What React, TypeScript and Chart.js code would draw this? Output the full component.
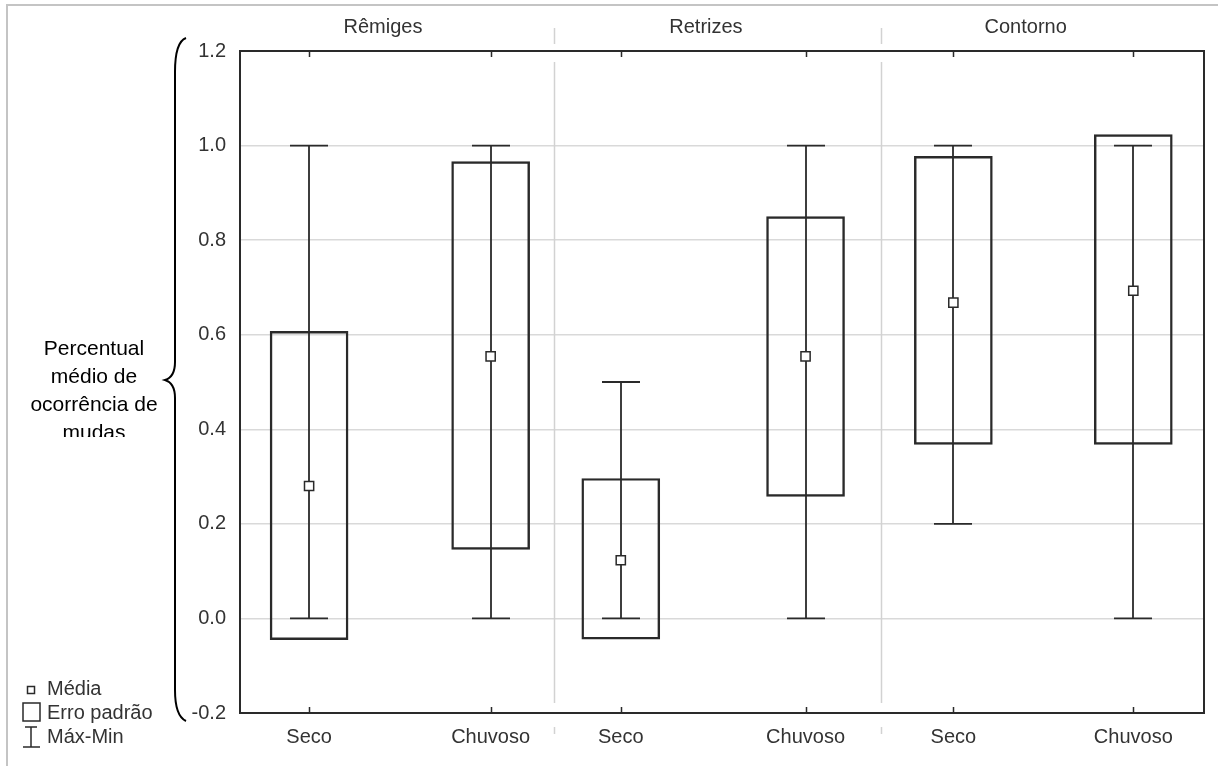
import React, { useEffect, useRef } from "react";
import { Chart, registerables } from "chart.js";

Chart.register(...registerables);

// ---- data ----
const categories = ["Seco", "Chuvoso", "Seco", "Chuvoso", "Seco", "Chuvoso"];
const groups = ["Rêmiges", "Retrizes", "Contorno"];
const xPos = [0.43, 1.56, 2.37, 3.52, 4.44, 5.56];
const groupLabelPos = [0.89, 2.9, 4.89];
const separatorPos = [1.955, 3.99];
const means = [0.28, 0.554, 0.123, 0.554, 0.668, 0.693];
const seLow = [-0.045, 0.146, -0.044, 0.258, 0.368, 0.368];
const seHigh = [0.607, 0.966, 0.296, 0.85, 0.977, 1.023];
const minVals = [0, 0, 0, 0, 0.2, 0];
const maxVals = [1, 1, 0.5, 1, 1, 1];
const yMin = -0.2;
const yMax = 1.2;
const yStep = 0.2;
const yLabelLines = ["Percentual", "médio de", "ocorrência de", "mudas"];
const legendItems = ["Média", "Erro padrão", "Máx-Min"];

const FONT = "'Liberation Sans', Arial, sans-serif";
const DARK = "#2a2a2a";

const decorPlugin = {
  id: "decor",
  beforeDatasetsDraw(chart: any) {
    const ctx = chart.ctx;
    const xs = chart.scales.x;
    const ys = chart.scales.y;
    ctx.save();
    // group separators
    ctx.strokeStyle = "#d2d2d2";
    ctx.lineWidth = 1.5;
    separatorPos.forEach((v) => {
      const px = Math.round(xs.getPixelForValue(v)) + 0.5;
      const segs = [
        [28, 44],
        [62, 703],
        [727, 734],
      ];
      segs.forEach(([a, b]) => {
        ctx.beginPath();
        ctx.moveTo(px, a);
        ctx.lineTo(px, b);
        ctx.stroke();
      });
    });
    // whiskers
    ctx.strokeStyle = DARK;
    ctx.lineWidth = 1.8;
    xPos.forEach((v, i) => {
      const px = Math.round(xs.getPixelForValue(v));
      const half = 19;
      const yTop = ys.getPixelForValue(maxVals[i]);
      const yBot = ys.getPixelForValue(minVals[i]);
      ctx.beginPath();
      ctx.moveTo(px, yTop);
      ctx.lineTo(px, yBot);
      ctx.moveTo(px - half, yTop);
      ctx.lineTo(px + half, yTop);
      ctx.moveTo(px - half, yBot);
      ctx.lineTo(px + half, yBot);
      ctx.stroke();
    });
    ctx.restore();
  },
  afterDraw(chart: any) {
    const ctx = chart.ctx;
    const xs = chart.scales.x;
    const ca = chart.chartArea;
    ctx.save();
    // outer border (top + left)
    ctx.strokeStyle = "#c4c4c4";
    ctx.lineWidth = 2;
    ctx.beginPath();
    ctx.moveTo(7, 766);
    ctx.lineTo(7, 5);
    ctx.lineTo(1218, 5);
    ctx.stroke();
    // plot frame
    ctx.strokeStyle = DARK;
    ctx.lineWidth = 2;
    ctx.strokeRect(ca.left, ca.top, ca.right - ca.left, ca.bottom - ca.top);
    // inside tick marks top & bottom
    ctx.lineWidth = 1.5;
    xPos.forEach((v) => {
      const px = Math.round(xs.getPixelForValue(v)) + 0.5;
      ctx.beginPath();
      ctx.moveTo(px, ca.top);
      ctx.lineTo(px, ca.top + 6);
      ctx.moveTo(px, ca.bottom);
      ctx.lineTo(px, ca.bottom - 6);
      ctx.stroke();
    });
    // group labels
    ctx.fillStyle = "#333";
    ctx.font = `20px ${FONT}`;
    ctx.textAlign = "center";
    ctx.textBaseline = "middle";
    groups.forEach((g, i) => {
      ctx.fillText(g, xs.getPixelForValue(groupLabelPos[i]), 27);
    });
    // brace
    ctx.strokeStyle = "#000";
    ctx.lineWidth = 2;
    ctx.beginPath();
    ctx.moveTo(186, 38);
    ctx.quadraticCurveTo(175, 42, 175, 72);
    ctx.lineTo(175, 362);
    ctx.quadraticCurveTo(175, 377, 165, 380);
    ctx.quadraticCurveTo(175, 383, 175, 398);
    ctx.lineTo(175, 690);
    ctx.quadraticCurveTo(175, 716, 186, 721);
    ctx.stroke();
    // y label (clipped at bottom like the original)
    ctx.save();
    ctx.beginPath();
    ctx.rect(15, 320, 160, 117);
    ctx.clip();
    ctx.fillStyle = "#000";
    ctx.font = `21px ${FONT}`;
    ctx.textAlign = "center";
    ctx.textBaseline = "middle";
    yLabelLines.forEach((t, i) => ctx.fillText(t, 94, 349 + i * 28));
    ctx.restore();
    // legend
    ctx.strokeStyle = DARK;
    ctx.lineWidth = 1.5;
    ctx.strokeRect(27.5, 686.5, 7, 7);
    ctx.strokeRect(23, 703, 17, 18);
    ctx.beginPath();
    ctx.moveTo(25, 727);
    ctx.lineTo(37, 727);
    ctx.moveTo(31, 727);
    ctx.lineTo(31, 747);
    ctx.moveTo(23, 747);
    ctx.lineTo(40, 747);
    ctx.stroke();
    ctx.fillStyle = "#333";
    ctx.font = `20px ${FONT}`;
    ctx.textAlign = "left";
    ctx.textBaseline = "middle";
    ctx.fillText(legendItems[0], 47, 689);
    ctx.fillText(legendItems[1], 47, 713);
    ctx.fillText(legendItems[2], 47, 737);
    ctx.restore();
  },
};

export default function App() {
  const ref = useRef<HTMLCanvasElement | null>(null);
  useEffect(() => {
    if (!ref.current) return;
    Chart.defaults.font.family = FONT;
    const chart = new Chart(ref.current, {
      type: "bar",
      data: {
        datasets: [
          {
            type: "bar",
            label: "Erro padrão",
            data: xPos.map((x, i) => ({ x, y: [seLow[i], seHigh[i]] })) as any,
            backgroundColor: "rgba(0,0,0,0)",
            borderColor: DARK,
            borderWidth: 1.8,
            borderSkipped: false,
            barThickness: 78,
            order: 2,
          } as any,
          {
            type: "scatter",
            label: "Média",
            data: xPos.map((x, i) => ({ x, y: means[i] })),
            pointStyle: "rect",
            pointRadius: 6.5,
            pointBackgroundColor: "#fff",
            pointBorderColor: DARK,
            pointBorderWidth: 1.5,
            order: 1,
          } as any,
        ],
      },
      options: {
        responsive: false,
        animation: false,
        devicePixelRatio: 1,
        layout: { padding: { left: 0, top: 51, right: 14, bottom: 0 } },
        plugins: { legend: { display: false }, tooltip: { enabled: false } },
        scales: {
          x: {
            type: "linear",
            offset: false,
            min: 0,
            max: 6,
            afterBuildTicks: (s: any) => {
              s.ticks = xPos.map((v) => ({ value: v }));
            },
            afterFit: (s: any) => {
              s.height = 53;
            },
            ticks: {
              autoSkip: false,
              maxRotation: 0,
              padding: 12,
              color: "#333",
              font: { size: 20, family: FONT },
              callback: (_v: any, i: number) => categories[i],
            },
            grid: { display: false, drawTicks: false, offset: false },
            border: { display: false },
          },
          y: {
            type: "linear",
            min: yMin,
            max: yMax,
            afterFit: (s: any) => {
              s.width = 240;
            },
            ticks: {
              stepSize: yStep,
              padding: 14,
              color: "#333",
              font: { size: 20, family: FONT },
              callback: (v: any) => (Math.abs(Number(v)) < 1e-9 ? "0.0" : Number(v).toFixed(1)),
            },
            grid: { color: "#d9d9d9", lineWidth: 1.5, drawTicks: false },
            border: { display: false },
          },
        },
      },
      plugins: [decorPlugin],
    });
    return () => chart.destroy();
  }, []);
  return (
    <div style={{ position: "fixed", left: 0, top: 0, width: 1218, height: 766, background: "#fff" }}>
      <canvas ref={ref} width={1218} height={766} style={{ width: 1218, height: 766 }} />
    </div>
  );
}
